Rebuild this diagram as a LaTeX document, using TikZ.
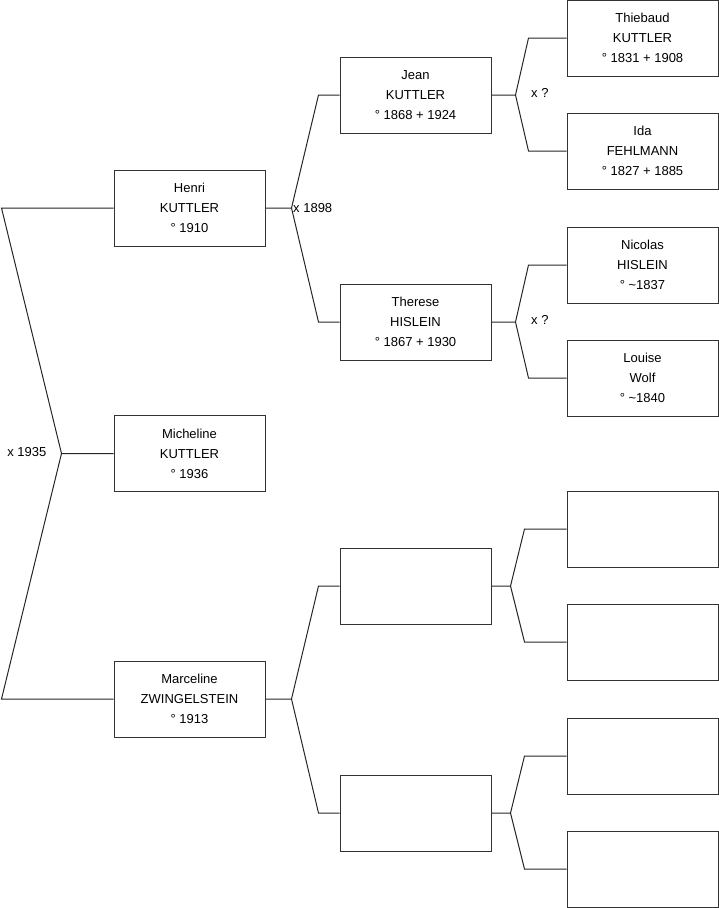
\documentclass[tikz,border=0pt]{standalone}
\usepackage{fontspec}
\setmainfont{Liberation Sans}
\usepackage{tikz}
\usetikzlibrary{positioning}

\tikzset{
    person/.style={draw=black!80, line width=1pt, minimum width=151pt, minimum height=76pt,
        inner sep=0pt, align=center, font=\fontsize{13}{20}\selectfont},
    link/.style={black!85, line width=1pt},
    wedding/.style={inner sep=0pt, font=\fontsize{13}{16}\selectfont}
}

\begin{document}
\begin{tikzpicture}[x=1pt, y={(0pt,-1pt)}]
    \useasboundingbox (0,0) rectangle (719,908);

    % generation 1
    \node[person] (henri) at (189.5, 208) {Henri\\KUTTLER\\° 1910};
    \node[person] (micheline) at (189.5, 453.5) {Micheline\\KUTTLER\\° 1936};
    \node[person] (marceline) at (189.5, 699) {Marceline\\ZWINGELSTEIN\\° 1913};

    % generation 2
    \node[person] (jean) at (415.5, 95) {Jean\\KUTTLER\\° 1868 + 1924};
    \node[person] (therese) at (415.5, 322) {Therese\\HISLEIN\\° 1867 + 1930};
    \node[person] (m1) at (415.5, 586) {};
    \node[person] (m2) at (415.5, 813) {};

    % generation 3
    \node[person] (thiebaud) at (642.5, 38) {Thiebaud\\KUTTLER\\° 1831 + 1908};
    \node[person] (ida) at (642.5, 151) {Ida\\FEHLMANN\\° 1827 + 1885};
    \node[person] (nicolas) at (642.5, 265) {Nicolas\\HISLEIN\\° \textasciitilde1837};
    \node[person] (louise) at (642.5, 378) {Louise\\Wolf\\° \textasciitilde1840};
    \foreach \r/\y in {r5/529, r6/642, r7/756, r8/869} {
        \node[person] (\r) at (642.5, \y) {};
    }

    % couple of generation 1
    \coordinate (wed) at ([xshift=-52pt]micheline.west);
    \draw[link] (henri.west) -- ([xshift=-112pt]henri.west) -- (wed) -- (micheline.west);
    \draw[link] (wed) -- ([xshift=-112pt]marceline.west) -- (marceline.west);

    % parents of each person
    \foreach \kid/\dad/\mum/\sx/\lx in {henri/jean/therese/26/21, marceline/m1/m2/26/21,
        jean/thiebaud/ida/24/38, therese/nicolas/louise/24/38, m1/r5/r6/19/42, m2/r7/r8/19/42} {
        \draw[link] (\kid.east) -- ++(\sx,0) coordinate (\kid-x) -- ([xshift=-\lx pt]\dad.west) -- (\dad.west);
        \draw[link] (\kid-x) -- ([xshift=-\lx pt]\mum.west) -- (\mum.west);
    }

    \node[wedding, anchor=east] (w1935) at ([xshift=-15pt, yshift=1pt]wed) {x 1935};
    \node[wedding, anchor=west] (w1898) at ([xshift=1.5pt]henri-x) {x 1898};
    \node[wedding, anchor=west] (wjean) at ([xshift=15.5pt, yshift=2pt]jean-x) {x ?};
    \node[wedding, anchor=west] (wtherese) at ([xshift=15.5pt, yshift=2pt]therese-x) {x ?};
\end{tikzpicture}
\end{document}
